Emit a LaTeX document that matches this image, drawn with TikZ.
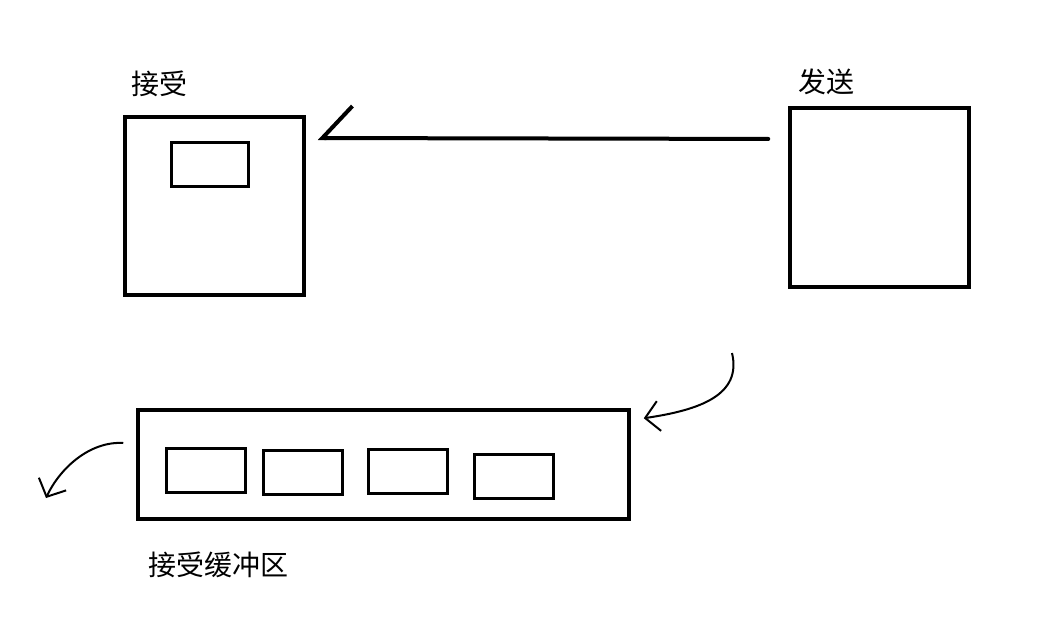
\documentclass[tikz,border=0pt]{standalone}
\usepackage{fontspec}
\newfontfamily\cjk{Noto Sans CJK SC}
\usetikzlibrary{arrows.meta, calc}

\begin{document}
\begin{tikzpicture}[x=1pt, y=-1pt,
		box/.style={draw, line width=3.5pt, inner sep=0pt},
		slot/.style={draw, line width=3pt, inner sep=0pt, minimum width=79pt, minimum height=44pt},
		lbl/.style={font=\cjk\fontsize{28}{32}\selectfont},
		arr/.style={line width=4pt, line cap=round, -{Straight Barb[right, length=30pt, width=64pt, line width=4pt]}},
		curv/.style={line width=2pt, -{Straight Barb[length=14pt, width=30pt, line width=2pt]}}]
	
	\useasboundingbox (0,0) rectangle (1043,617);
	
	% receiver
	\node[box, minimum width=179pt, minimum height=178pt] (recv) at (214.5,206) {};
	\node[slot, minimum width=77pt] (recvslot) at (209.5,165) {};
	\node[lbl] (recvlbl) at (159,84) {接受};
	
	% sender
	\node[box, minimum width=179pt, minimum height=179pt] (send) at (879.5,197.5) {};
	\node[lbl] (sendlbl) at (826,82) {发送};
	
	\draw[arr] (send.west |- 0,139) -- (recv.east |- 0,138)
		[shorten <=20pt, shorten >=12pt];
	
	% buffer
	\node[box, minimum width=491pt, minimum height=109pt] (buf) at (383.5,464.5) {};
	\node[slot] (slota) at (205.5,470) {};
	\node[slot] (slotb) at (303,472) {};
	\node[slot] (slotc) at (407.5,471) {};
	\node[slot] (slotd) at (513.5,476) {};
	\node[lbl] (buflbl) at (218,565) {接受缓冲区};
	
	\coordinate (inflow) at (732,353);
	\coordinate (outflow) at (46,498);
	
	\draw[curv] (inflow) .. controls (742,395) and (700,410) .. ($(buf.north east)+(13,10)$);
	\draw[curv] ($(buf.west)+(-13,-21.5)$) .. controls (90,441) and (60,468) .. (outflow);
	
\end{tikzpicture}
\end{document}
